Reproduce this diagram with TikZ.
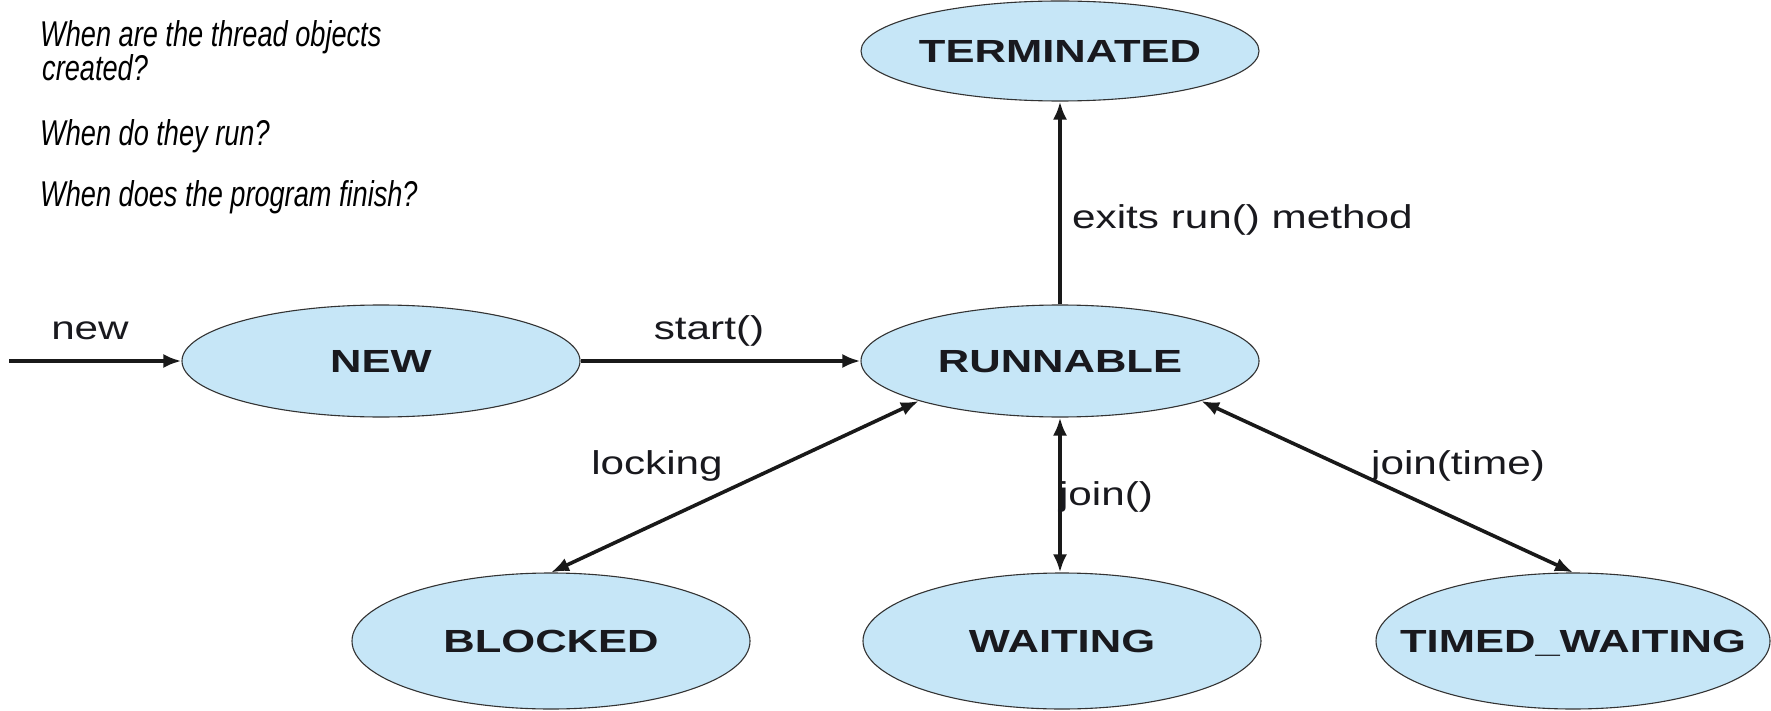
\documentclass[tikz,border=0pt]{standalone}
\usepackage{fontspec}
\usepackage{graphicx}
\setmainfont{Liberation Sans}
\usetikzlibrary{shapes.geometric,arrows.meta}
\definecolor{stateblue}{RGB}{198,230,247}
\definecolor{inkgray}{RGB}{25,25,30}
\newcommand{\stlabel}[1]{\makebox[0pt]{\raisebox{-0.358em}[0pt][0pt]{\scalebox{1.36}[1]{#1}}}}
\newcommand{\wlabel}[1]{\scalebox{1.28}[1]{#1}}
\newcommand{\qtext}[1]{\scalebox{0.97}[1.28]{#1}}
\tikzset{
  state/.style={ellipse, draw=black!80, line width=1.1pt, fill=stateblue, inner sep=0pt,
    minimum width=398pt, minimum height=136pt, text=inkgray,
    font=\fontsize{32}{32}\selectfont\bfseries},
  upper/.style={minimum height=112pt},
  lbl/.style={font=\fontsize{33}{33}\selectfont, inner sep=0pt, text=inkgray},
  question/.style={font=\fontsize{28}{32}\selectfont\itshape, anchor=base west, inner sep=0pt},
  arr/.style={line width=3.6pt, draw=black!90, -{Latex[length=18pt,width=14pt]}},
  darr/.style={line width=3.6pt, draw=black!90, {Latex[length=18pt,width=14pt]}-{Latex[length=18pt,width=14pt]}},
}
\begin{document}
\begin{tikzpicture}[x=1pt,y=-1pt]
\useasboundingbox[fill=white] (0,0) rectangle (1771,711);
% questions
\node[question] (q1) at (40,47) {\qtext{When are the thread objects}};
\node[question] (q2) at (42,81) {\qtext{created?}};
\node[question] (q3) at (40,146) {\qtext{When do they run?}};
\node[question] (q4) at (40,207) {\qtext{When does the program finish?}};
% states
\node[state, minimum height=100pt] (term) at (1060,51) {\stlabel{TERMINATED}};
\node[state, upper] (new) at (381,361) {\stlabel{NEW}};
\node[state, upper] (run) at (1060,361) {\stlabel{RUNNABLE}};
\node[state] (blk) at (551,641) {\stlabel{BLOCKED}};
\node[state] (wait) at (1062,641) {\stlabel{WAITING}};
\node[state, minimum width=394pt] (tw) at (1573,641) {\stlabel{TIMED\_WAITING}};
% connectors
\coordinate (src) at (9,361);
\draw[arr] (src) -- (new.west);
\draw[arr] (new.east) -- (run.west);
\draw[arr] (run.north) -- (term.south);
\draw[darr] (blk.north) -- (run.south west);
\draw[darr] (run.south) -- (run.south |- wait.north);
\draw[darr] (run.south east) -- (tw.north);
% labels
\node[lbl] (lnew) at (90,331) {\wlabel{new}};
\node[lbl] (lstart) at (709,331) {\wlabel{start()}};
\node[lbl, anchor=west] (lexit) at (1072,220) {\wlabel{exits run() method}};
\node[lbl] (llock) at (657,466) {\wlabel{locking}};
\node[lbl] (ljoin) at (1106,497) {\wlabel{join()}};
\node[lbl] (ljt) at (1458,466) {\wlabel{join(time)}};
\end{tikzpicture}
\end{document}
